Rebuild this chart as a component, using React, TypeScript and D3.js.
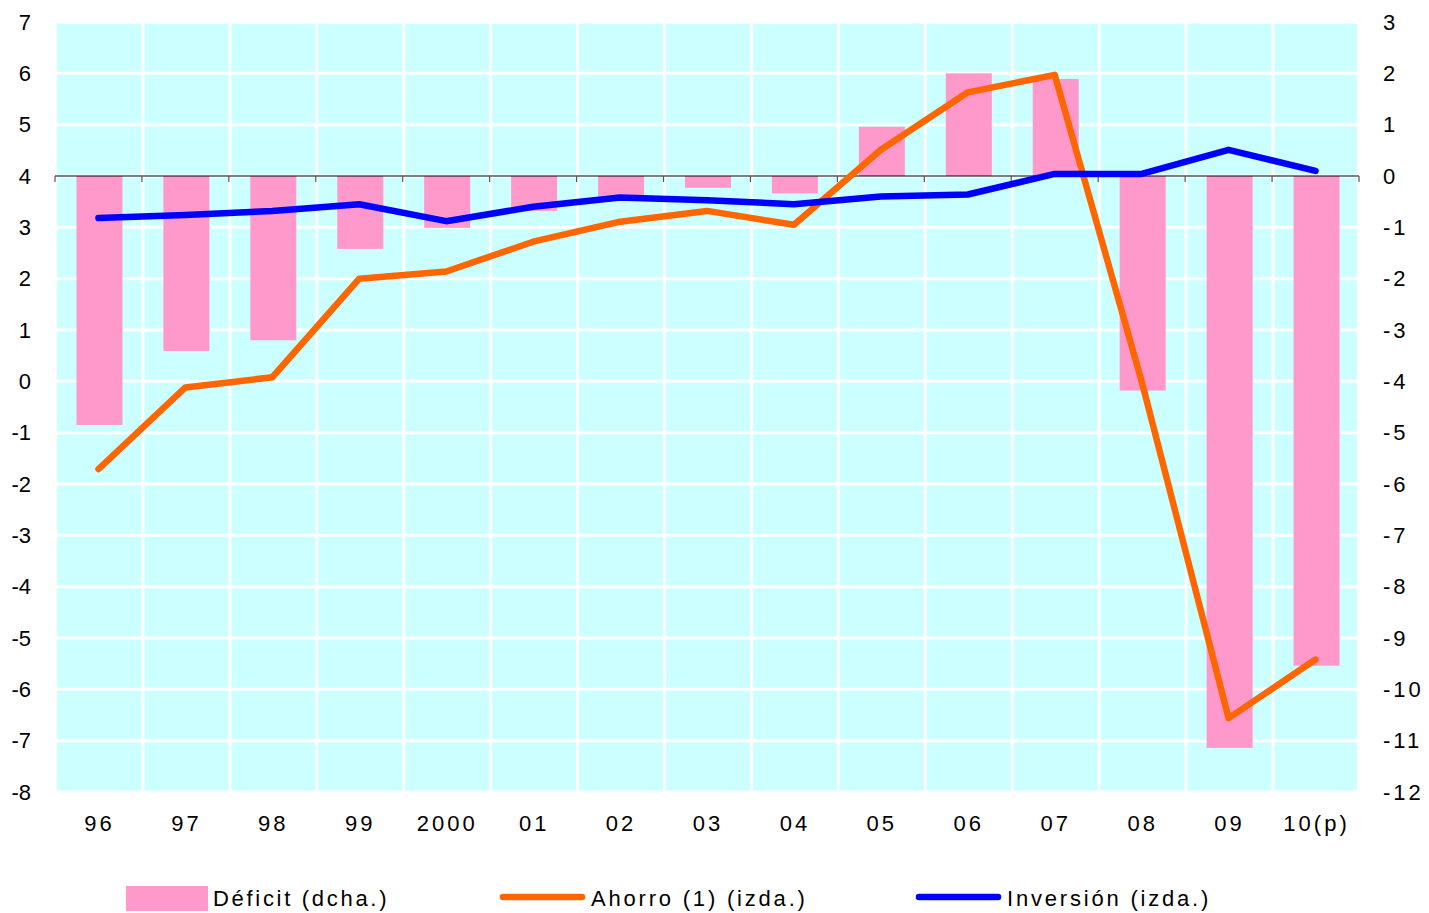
import React from "react";
import * as d3 from "d3";

const categories = ["96", "97", "98", "99", "2000", "01", "02", "03", "04", "05", "06", "07", "08", "09", "10(p)"];
const deficit = [-4.85, -3.41, -3.2, -1.42, -1.01, -0.68, -0.4, -0.23, -0.34, 0.96, 2.0, 1.89, -4.18, -11.14, -9.54];
const ahorro = [-1.71, -0.12, 0.08, 2.0, 2.14, 2.72, 3.11, 3.32, 3.05, 4.51, 5.63, 5.97, 0.0, -6.56, -5.42];
const inversion = [3.18, 3.24, 3.32, 3.45, 3.12, 3.4, 3.58, 3.53, 3.45, 3.6, 3.64, 4.04, 4.04, 4.51, 4.1];
const leftTicks = [7, 6, 5, 4, 3, 2, 1, 0, -1, -2, -3, -4, -5, -6, -7, -8];
const rightTicks = [3, 2, 1, 0, -1, -2, -3, -4, -5, -6, -7, -8, -9, -10, -11, -12];

const W = 1429;
const H = 913;
const x0 = 55;
const x1 = 1359;
const yTop = 22;
const yBot = 792;

export default function App() {
  const x = d3.scaleBand<string>().domain(categories).range([x0, x1]).padding(0);
  const yL = d3.scaleLinear().domain([-8, 7]).range([yBot, yTop]);
  const yR = d3.scaleLinear().domain([-12, 3]).range([yBot, yTop]);
  const bw = x.bandwidth();
  const cx = (c: string) => (x(c) as number) + bw / 2;
  const barW = 46;

  const lineL = d3
    .line<number>()
    .x((_, i) => cx(categories[i]))
    .y((d) => yL(d));

  const font = "'Liberation Sans', Arial, sans-serif";

  return (
    <svg width={W} height={H} style={{ display: "block", position: "absolute", left: 0, top: 0 }}>
      <rect x={0} y={0} width={W} height={H} fill="#ffffff" />
      <rect x={57} y={23} width={1300} height={770} fill="#CCFFFF" />
      {leftTicks.map((t) => (
        <line key={"hg" + t} x1={57} x2={1357} y1={yL(t)} y2={yL(t)} stroke="#ffffff" strokeWidth={3} />
      ))}
      {categories.slice(1).map((c) => (
        <line key={"vg" + c} x1={(x(c) as number) + 1} x2={(x(c) as number) + 1} y1={23} y2={793} stroke="#ffffff" strokeWidth={3} />
      ))}
      {deficit.map((v, i) => {
        const c = categories[i];
        const y0 = yR(0);
        const yv = yR(v);
        return (
          <rect
            key={"b" + c}
            x={cx(c) - barW / 2 + 1}
            y={Math.min(y0, yv)}
            width={barW}
            height={Math.abs(yv - y0)}
            fill="#FF99CC"
          />
        );
      })}
      <line x1={x0} x2={x1} y1={yL(4)} y2={yL(4)} stroke="#000000" strokeWidth={1.2} />
      {categories.concat(["end"]).map((c, i) => {
        const xx = x0 + i * bw;
        return <line key={"t" + i} x1={xx} x2={xx} y1={yL(4)} y2={yL(4) + 6} stroke="#555555" strokeWidth={1.2} />;
      })}
      <path d={lineL(ahorro) || ""} fill="none" stroke="#FF6600" strokeWidth={6.5} strokeLinejoin="round" strokeLinecap="round" />
      <path d={lineL(inversion) || ""} fill="none" stroke="#0000FF" strokeWidth={6.5} strokeLinejoin="round" strokeLinecap="round" />
      {leftTicks.map((t) => (
        <text key={"ll" + t} x={31} y={yL(t)} textAnchor="end" dominantBaseline="central" fontFamily={font} fontSize={22} fill="#000">
          {t}
        </text>
      ))}
      {rightTicks.map((t) => (
        <text key={"rl" + t} x={1383} y={yR(t)} textAnchor="start" dominantBaseline="central" fontFamily={font} fontSize={22} letterSpacing={3} fill="#000">
          {t}
        </text>
      ))}
      {categories.map((c) => (
        <text key={"xl" + c} x={cx(c) + 1} y={823} textAnchor="middle" dominantBaseline="central" fontFamily={font} fontSize={22} letterSpacing={3} fill="#000">
          {c}
        </text>
      ))}
      <rect x={126} y={886} width={82} height={25} fill="#FF99CC" />
      <text x={213} y={898} dominantBaseline="central" fontFamily={font} fontSize={22} letterSpacing={2.7} fill="#000">
        Déficit (dcha.)
      </text>
      <line x1={503} x2={582} y1={897} y2={897} stroke="#FF6600" strokeWidth={6.5} strokeLinecap="round" />
      <text x={591} y={898} dominantBaseline="central" fontFamily={font} fontSize={22} letterSpacing={2.8} fill="#000">
        Ahorro (1) (izda.)
      </text>
      <line x1={919} x2={998} y1={897} y2={897} stroke="#0000FF" strokeWidth={6.5} strokeLinecap="round" />
      <text x={1007} y={898} dominantBaseline="central" fontFamily={font} fontSize={22} letterSpacing={2.8} fill="#000">
        Inversión (izda.)
      </text>
    </svg>
  );
}
